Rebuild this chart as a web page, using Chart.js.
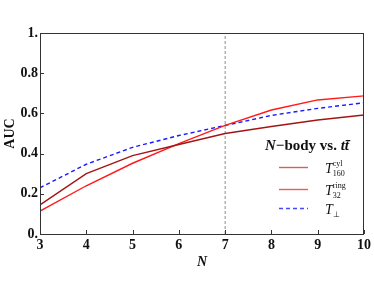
<!DOCTYPE html>
<html lang="en">
<head>
  <meta charset="UTF-8" />
  <title>AUC vs N</title>
  <script src="https://cdn.jsdelivr.net/npm/chart.js"></script>
  <style>
    html, body { margin: 0; padding: 0; background: #fff; }
  </style>
</head>
<body>
  <canvas id="myChart" width="374" height="299"></canvas>

  <script>
    // values
    const nValues = [3, 4, 5, 6, 7, 8, 9, 10];
    const aucCyl  = [0.145, 0.300, 0.390, 0.445, 0.500, 0.535, 0.567, 0.592];
    const aucRing = [0.114, 0.240, 0.352, 0.450, 0.540, 0.617, 0.667, 0.687];
    const aucPerp = [0.230, 0.347, 0.431, 0.490, 0.540, 0.590, 0.625, 0.653];
    const markerN = 7;
    const yTicks = [0, 0.2, 0.4, 0.6, 0.8, 1];

    const serif = "'Liberation Serif', 'Times New Roman', serif";

    function toPoints(ys) {
      return nValues.map((n, i) => ({ x: n, y: ys[i] }));
    }

    // frame + inward tick marks
    const framePlugin = {
      id: 'frame',
      afterDatasetsDraw(chart) {
        const { ctx, chartArea: a, scales } = chart;
        ctx.save();
        ctx.strokeStyle = '#333';
        ctx.lineWidth = 1;
        ctx.strokeRect(Math.round(a.left) + 0.5, Math.round(a.top) + 0.5,
                       Math.round(a.right - a.left) - 1, Math.round(a.bottom - a.top));
        ctx.beginPath();
        scales.x.ticks.forEach(t => {
          const px = Math.round(scales.x.getPixelForValue(t.value)) + 0.5;
          ctx.moveTo(px, a.bottom);
          ctx.lineTo(px, a.bottom - 4);
        });
        scales.y.ticks.forEach(t => {
          const py = Math.round(scales.y.getPixelForValue(t.value)) + 0.5;
          ctx.moveTo(a.left, py);
          ctx.lineTo(a.left + 4, py);
        });
        ctx.stroke();
        ctx.restore();
      }
    };

    // legend with title and sub/superscript labels
    const legendPlugin = {
      id: 'sideLegend',
      afterDraw(chart) {
        const { ctx, chartArea: a } = chart;
        ctx.save();
        ctx.fillStyle = '#111';
        ctx.textBaseline = 'alphabetic';

        // title
        const parts = [
          { t: 'N', f: 'italic bold 15px ' + serif },
          { t: '\u2212body vs. ', f: 'bold 15px ' + serif },
          { t: 'tt\u0304', f: 'italic bold 15px ' + serif }
        ];
        let w = 0;
        parts.forEach(p => { ctx.font = p.f; p.w = ctx.measureText(p.t).width; w += p.w; });
        let x = a.right - 57 - w / 2;
        const ty = a.bottom - 84;
        parts.forEach(p => { ctx.font = p.f; ctx.fillText(p.t, x, ty); x += p.w; });

        const items = [
          { ds: 0, sup: 'cyl', sub: '160', dy: 67 },
          { ds: 1, sup: 'ring', sub: '32', dy: 45 },
          { ds: 2, sup: '', sub: '\u22A5', dy: 26 }
        ];
        items.forEach(it => {
          const d = chart.data.datasets[it.ds];
          const y = a.bottom - it.dy + 0.5;
          ctx.save();
          ctx.strokeStyle = d.legendColor;
          ctx.lineWidth = d.borderWidth;
          ctx.setLineDash(d.borderDash || []);
          ctx.beginPath();
          ctx.moveTo(a.right - 85, y);
          ctx.lineTo(a.right - 56, y);
          ctx.stroke();
          ctx.restore();

          const lx = a.right - 39;
          const by = y + 5;
          ctx.font = 'italic 14px ' + serif;
          ctx.fillText('T', lx, by);
          const tw = ctx.measureText('T').width;
          ctx.font = '8px ' + serif;
          if (it.sup) ctx.fillText(it.sup, lx + tw, by - 7);
          ctx.fillText(it.sub, lx + tw, by + 3);
        });
        ctx.restore();
      }
    };

    const ctx = document.getElementById('myChart').getContext('2d');
    new Chart(ctx, {
      type: 'line',
      data: {
        datasets: [
          {
            label: 'T cyl 160',
            data: toPoints(aucCyl),
            borderColor: '#a31515',
            legendColor: 'rgba(200,70,70,0.85)',
            borderWidth: 1.4,
            pointRadius: 0,
            tension: 0
          },
          {
            label: 'T ring 32',
            data: toPoints(aucRing),
            borderColor: '#ff1a1a',
            legendColor: 'rgba(240,60,60,0.85)',
            borderWidth: 1.4,
            pointRadius: 0,
            tension: 0
          },
          {
            label: 'T perp',
            data: toPoints(aucPerp),
            borderColor: '#1a1aff',
            legendColor: 'rgba(40,40,255,0.85)',
            borderWidth: 1.4,
            borderDash: [4, 3],
            pointRadius: 0,
            tension: 0
          },
          {
            label: 'marker',
            data: [{ x: markerN, y: yTicks[0] }, { x: markerN, y: yTicks[yTicks.length - 1] }],
            borderColor: '#8c8c8c',
            borderWidth: 1,
            borderDash: [3, 2],
            pointRadius: 0
          }
        ]
      },
      options: {
        responsive: false,
        animation: false,
        layout: { padding: { top: 33, right: 7, left: 0, bottom: 0 } },
        plugins: {
          legend: { display: false },
          tooltip: { enabled: false }
        },
        scales: {
          x: {
            type: 'linear',
            min: nValues[0],
            max: nValues[nValues.length - 1],
            afterBuildTicks: s => { s.ticks = nValues.map(v => ({ value: v })); },
            afterFit: s => { s.height = 65; },
            grid: { display: false, drawTicks: false },
            border: { display: false },
            ticks: {
              padding: 3,
              color: '#111',
              font: { family: serif, size: 14, weight: 'bold' },
              maxRotation: 0
            },
            title: {
              display: true,
              text: 'N',
              color: '#111',
              padding: { top: 0, bottom: 28 },
              font: { family: serif, size: 14, weight: 'bold', style: 'italic' }
            }
          },
          y: {
            type: 'linear',
            min: 0,
            max: 1,
            afterBuildTicks: s => { s.ticks = yTicks.map(v => ({ value: v })); },
            afterFit: s => { s.width = 40; },
            grid: { display: false, drawTicks: false },
            border: { display: false },
            ticks: {
              padding: 2,
              color: '#111',
              font: { family: serif, size: 14, weight: 'bold' },
              callback: v => (v === 0 ? '0.' : v === 1 ? '1.' : v.toFixed(1))
            },
            title: {
              display: true,
              text: 'AUC',
              color: '#111',
              padding: { top: 2, bottom: 0 },
              font: { family: serif, size: 14, weight: 'bold' }
            }
          }
        }
      },
      plugins: [framePlugin, legendPlugin]
    });
  </script>
</body>
</html>
